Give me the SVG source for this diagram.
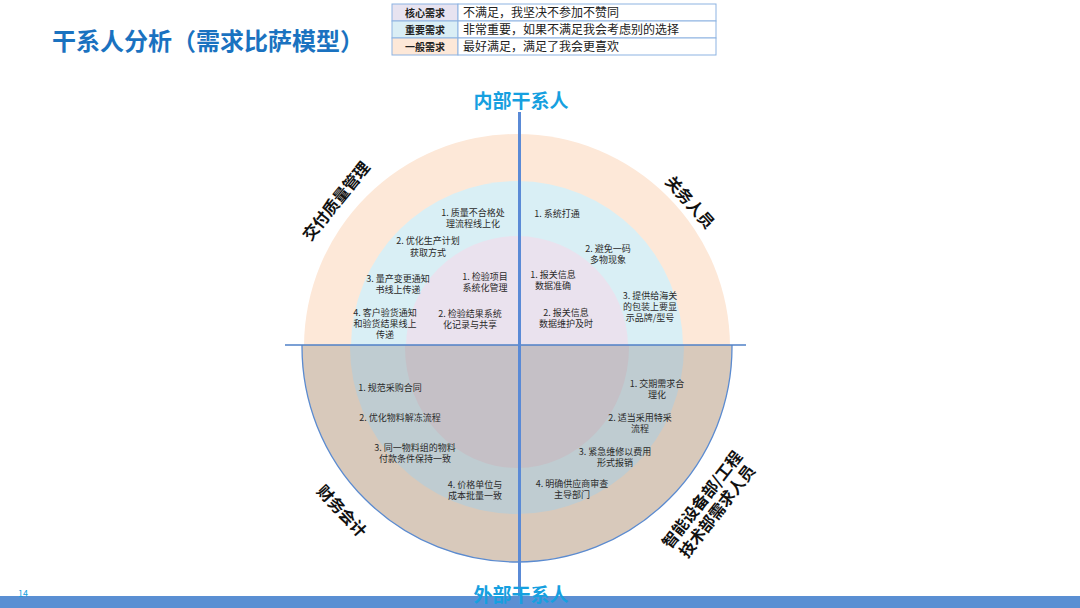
<svg xmlns="http://www.w3.org/2000/svg" width="1080" height="608" viewBox="0 0 1080 608">
<style>
text{font-family:"Noto Sans CJK SC","Liberation Sans",sans-serif;}
.t{font-size:9px;fill:#2a2a2a;text-anchor:middle;}
.lab{font-size:16px;font-weight:bold;fill:#111;text-anchor:middle;}
.axis{font-size:19px;font-weight:bold;fill:#16a0e0;text-anchor:middle;}
.h{font-size:10px;font-weight:bold;fill:#222;text-anchor:middle;}
.d{font-size:12px;fill:#222;}
.cell{stroke:#8db3e2;stroke-width:1;}
</style>
<defs>
<clipPath id="top"><rect x="0" y="0" width="1080" height="345"/></clipPath>
<clipPath id="bot"><rect x="0" y="345" width="1080" height="263"/></clipPath>
</defs>
<rect width="1080" height="608" fill="#ffffff"/>

<g id="title"><text x="52" y="50" font-size="24" font-weight="bold" fill="#1a72c0">干系人分析（需求比萨模型）</text></g>

<g id="legend">
<rect class="cell" x="392" y="4" width="66" height="17" fill="#e7e3f0"/>
<rect class="cell" x="458" y="4" width="258" height="17" fill="#ffffff"/>
<rect class="cell" x="392" y="21" width="66" height="17" fill="#daeef5"/>
<rect class="cell" x="458" y="21" width="258" height="17" fill="#ffffff"/>
<rect class="cell" x="392" y="38" width="66" height="17" fill="#fde8d8"/>
<rect class="cell" x="458" y="38" width="258" height="17" fill="#ffffff"/>
<text class="h" x="425" y="16.5">核心需求</text>
<text class="h" x="425" y="33.5">重要需求</text>
<text class="h" x="425" y="50.5">一般需求</text>
<text class="d" x="463" y="17">不满足，我坚决不参加不赞同</text>
<text class="d" x="463" y="34">非常重要，如果不满足我会考虑别的选择</text>
<text class="d" x="463" y="51">最好满足，满足了我会更喜欢</text>
</g>

<g id="pizza-top" clip-path="url(#top)">
<circle cx="517" cy="347" r="213" fill="#fde8d8"/>
<circle cx="517" cy="347" r="166" fill="#d9eff5"/>
<circle cx="517" cy="347" r="111" fill="#eae2ee"/>
</g>
<g id="pizza-bottom" clip-path="url(#bot)">
<circle cx="517" cy="347" r="215" fill="#d8c9bb" stroke="#5b8bd0" stroke-width="1.3"/>
<circle cx="517" cy="347" r="167" fill="#bfccd1"/>
<ellipse cx="517" cy="347" rx="112" ry="121" fill="#c5c0c6"/>
</g>

<g id="connectors">
<line x1="285" y1="345" x2="746" y2="345" stroke="#4f81c7" stroke-width="1.3"/>
<line x1="519.5" y1="112" x2="519.5" y2="600" stroke="#5a8ad6" stroke-width="3"/>
</g>

<g id="q-delivery">
<text class="lab" transform="translate(336,201) rotate(-51)" y="6">交付质量管理</text>
<text class="t" x="473" y="216">1. 质量不合格处</text>
<text class="t" x="473" y="227">理流程线上化</text>
<text class="t" x="428" y="244">2. 优化生产计划</text>
<text class="t" x="428" y="256">获取方式</text>
<text class="t" x="398" y="282">3. 量产变更通知</text>
<text class="t" x="398" y="293">书线上传递</text>
<text class="t" x="385" y="316">4. 客户验货通知</text>
<text class="t" x="385" y="327">和验货结果线上</text>
<text class="t" x="385" y="338">传递</text>
<text class="t" x="485" y="280">1. 检验项目</text>
<text class="t" x="485" y="291">系统化管理</text>
<text class="t" x="470" y="317">2. 检验结果系统</text>
<text class="t" x="470" y="328">化记录与共享</text>
</g>

<g id="q-customs">
<text class="lab" transform="translate(690,202) rotate(48)" y="6">关务人员</text>
<text class="t" x="557" y="217">1. 系统打通</text>
<text class="t" x="608" y="252">2. 避免一码</text>
<text class="t" x="608" y="263">多物现象</text>
<text class="t" x="553" y="278">1. 报关信息</text>
<text class="t" x="553" y="289">数据准确</text>
<text class="t" x="650" y="299">3. 提供给海关</text>
<text class="t" x="650" y="310">的包装上要显</text>
<text class="t" x="650" y="321">示品牌/型号</text>
<text class="t" x="566" y="316">2. 报关信息</text>
<text class="t" x="566" y="327">数据维护及时</text>
</g>

<g id="q-finance">
<text class="lab" transform="translate(342,511) rotate(47)" y="6">财务会计</text>
<text class="t" x="390" y="391">1. 规范采购合同</text>
<text class="t" x="400" y="421">2. 优化物料解冻流程</text>
<text class="t" x="415" y="451">3. 同一物料组的物料</text>
<text class="t" x="415" y="462">付款条件保持一致</text>
<text class="t" x="475" y="488">4. 价格单位与</text>
<text class="t" x="475" y="499">成本批量一致</text>
</g>

<g id="q-engineering">
<g transform="translate(709,505) rotate(-52)">
<text class="lab" y="-3">智能设备部/工程</text>
<text class="lab" y="16">技术部需求人员</text>
</g>
<text class="t" x="657" y="387">1. 交期需求合</text>
<text class="t" x="657" y="398">理化</text>
<text class="t" x="640" y="421">2. 适当采用特采</text>
<text class="t" x="640" y="432">流程</text>
<text class="t" x="615" y="455">3. 紧急维修以费用</text>
<text class="t" x="615" y="466">形式报销</text>
<text class="t" x="572" y="487">4. 明确供应商审查</text>
<text class="t" x="572" y="498">主导部门</text>
</g>

<g id="footer">
<rect x="0" y="596" width="1080" height="12" fill="#5a8fd3"/>
<text x="18" y="597" font-size="9" fill="#16a0e0">14</text>
</g>

<g id="axis-labels">
<text class="axis" x="521" y="108">内部干系人</text>
<text class="axis" x="521" y="602" font-size="20">外部干系人</text>
</g>
</svg>
